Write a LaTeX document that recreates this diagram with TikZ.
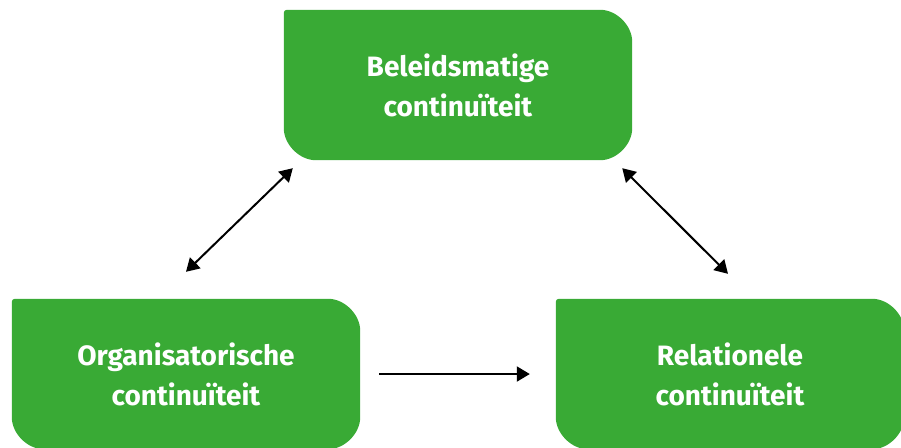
\documentclass[tikz,border=0pt]{standalone}
\usepackage{fontspec}
\setmainfont{Fira Sans}
\usepackage{tikz}
\usetikzlibrary{arrows.meta}
\usetikzlibrary{backgrounds}

\definecolor{boxgreen}{RGB}{57,170,53}

\newcommand{\greenbox}[1]{%
  \begin{pgfonlayer}{background}
    \fill[boxgreen, rounded corners=3pt] (#1.north west) -- ([xshift=-35pt]#1.north east)
      arc[start angle=90, end angle=0, radius=35pt] -- ([yshift=35pt]#1.south east)
      arc[start angle=0, end angle=-90, radius=35pt] -- ([xshift=35pt]#1.south west)
      arc[start angle=270, end angle=180, radius=35pt] -- cycle;
  \end{pgfonlayer}}

\begin{document}
\begin{tikzpicture}[x=1pt, y=-1pt,
    box/.style={minimum width=348pt, minimum height=150pt, inner sep=0pt,
      align=center, text=white, font=\fontsize{28}{40}\selectfont\bfseries},
    link/.style={line width=2pt, -{Triangle[length=13pt,width=15pt]}},
    bilink/.style={line width=2pt, {Triangle[length=13pt,width=15pt]}-{Triangle[length=13pt,width=15pt]}}]
    \useasboundingbox (0,0) rectangle (901,447);

    \node[box] (beleid) at (458,85) {Beleidsmatige\\continuïteit};
    \greenbox{beleid}
    \node[box] (org) at (186,374) {Organisatorische\\continuïteit};
    \greenbox{org}
    \node[box] (rel) at (730,374) {Relationele\\continuïteit};
    \greenbox{rel}

    \draw[bilink] ([yshift=27pt]org.north) -- ([xshift=9pt,yshift=-8pt]beleid.south west);
    \draw[bilink] ([xshift=-10pt,yshift=-8pt]beleid.south east) -- ([xshift=-2pt,yshift=25pt]rel.north);
    \draw[link] ([xshift=19pt]org.east) -- ([xshift=-26pt]rel.west);
\end{tikzpicture}
\end{document}
